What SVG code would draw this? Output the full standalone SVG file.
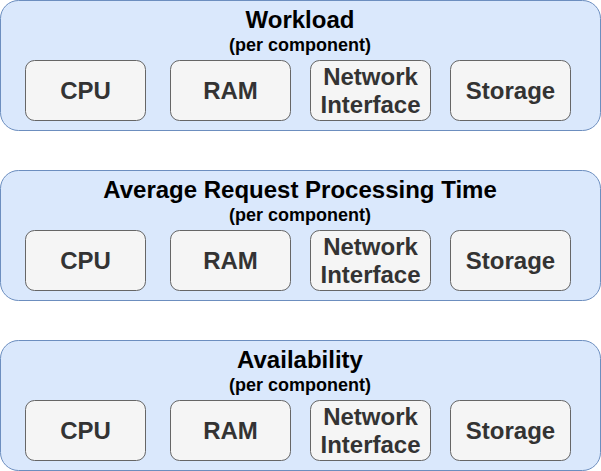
<svg xmlns="http://www.w3.org/2000/svg" width="601" height="471" viewBox="0 0 601 471">
<style>
.outer{fill:#dae8fc;stroke:#6c8ebf;stroke-width:1}
.inner{fill:#f5f5f5;stroke:#666666;stroke-width:1}
.title{font-family:"Liberation Sans",Arial,sans-serif;font-weight:bold;font-size:24px;fill:#000;text-anchor:middle}
.sub{font-family:"Liberation Sans",Arial,sans-serif;font-weight:bold;font-size:18px;fill:#000;text-anchor:middle}
.lbl{font-family:"Liberation Sans",Arial,sans-serif;font-weight:bold;font-size:24px;fill:#333333;text-anchor:middle}
</style>
<g id="workload">
<rect class="outer" x="0.5" y="0.5" width="600" height="130" rx="18" ry="18"/>
<text class="title" x="300" y="28">Workload</text>
<text class="sub" x="300" y="51">(per component)</text>
<g id="w-cpu"><rect class="inner" x="25.5" y="60.5" width="120" height="60" rx="9"/><text class="lbl" x="85.5" y="99">CPU</text></g>
<g id="w-ram"><rect class="inner" x="170.5" y="60.5" width="120" height="60" rx="9"/><text class="lbl" x="230.5" y="99">RAM</text></g>
<g id="w-net"><rect class="inner" x="310.5" y="60.5" width="120" height="60" rx="9"/><text class="lbl" x="370.5" y="85">Network</text><text class="lbl" x="370.5" y="113">Interface</text></g>
<g id="w-sto"><rect class="inner" x="450.5" y="60.5" width="120" height="60" rx="9"/><text class="lbl" x="510.5" y="99">Storage</text></g>
</g>
<g id="artime">
<rect class="outer" x="0.5" y="170.5" width="600" height="130" rx="18" ry="18"/>
<text class="title" x="300" y="198">Average Request Processing Time</text>
<text class="sub" x="300" y="221">(per component)</text>
<g id="a-cpu"><rect class="inner" x="25.5" y="230.5" width="120" height="60" rx="9"/><text class="lbl" x="85.5" y="269">CPU</text></g>
<g id="a-ram"><rect class="inner" x="170.5" y="230.5" width="120" height="60" rx="9"/><text class="lbl" x="230.5" y="269">RAM</text></g>
<g id="a-net"><rect class="inner" x="310.5" y="230.5" width="120" height="60" rx="9"/><text class="lbl" x="370.5" y="255">Network</text><text class="lbl" x="370.5" y="283">Interface</text></g>
<g id="a-sto"><rect class="inner" x="450.5" y="230.5" width="120" height="60" rx="9"/><text class="lbl" x="510.5" y="269">Storage</text></g>
</g>
<g id="availability">
<rect class="outer" x="0.5" y="340.5" width="600" height="130" rx="18" ry="18"/>
<text class="title" x="300" y="368">Availability</text>
<text class="sub" x="300" y="391">(per component)</text>
<g id="v-cpu"><rect class="inner" x="25.5" y="400.5" width="120" height="60" rx="9"/><text class="lbl" x="85.5" y="439">CPU</text></g>
<g id="v-ram"><rect class="inner" x="170.5" y="400.5" width="120" height="60" rx="9"/><text class="lbl" x="230.5" y="439">RAM</text></g>
<g id="v-net"><rect class="inner" x="310.5" y="400.5" width="120" height="60" rx="9"/><text class="lbl" x="370.5" y="425">Network</text><text class="lbl" x="370.5" y="453">Interface</text></g>
<g id="v-sto"><rect class="inner" x="450.5" y="400.5" width="120" height="60" rx="9"/><text class="lbl" x="510.5" y="439">Storage</text></g>
</g>
<g id="connectors"/>
</svg>
